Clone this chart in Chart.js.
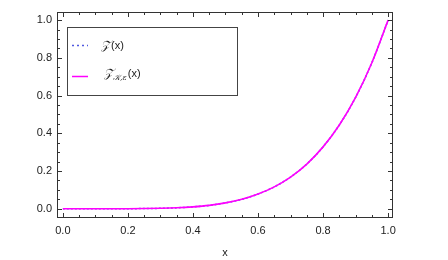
<!DOCTYPE html>
<html>
<head>
<meta charset="utf-8">
<script src="https://cdn.jsdelivr.net/npm/chart.js@4"></script>
<style>
  html, body { margin: 0; padding: 0; background: #fff; }
  #wrap { width: 448px; height: 260px; }
</style>
</head>
<body>
<div id="wrap"><canvas id="myChart"></canvas></div>
<script>
// values
var xValues   = [0, 0.05, 0.1, 0.15, 0.2, 0.25, 0.3, 0.35, 0.4, 0.45, 0.5, 0.55, 0.6, 0.65, 0.7, 0.75, 0.8, 0.85, 0.9, 0.95, 1.0];
var zValues   = [0, 0, 0, 0, 0.0003, 0.001, 0.0024, 0.005, 0.01, 0.018, 0.031, 0.05, 0.078, 0.116, 0.168, 0.237, 0.328, 0.444, 0.59, 0.774, 1.0];
var zkeValues = [0, 0, 0, 0, 0.0003, 0.001, 0.0024, 0.005, 0.01, 0.018, 0.031, 0.05, 0.078, 0.116, 0.168, 0.237, 0.328, 0.444, 0.59, 0.774, 1.0];
var xTicks = [0, 0.2, 0.4, 0.6, 0.8, 1.0];
var yTicks = [0, 0.2, 0.4, 0.6, 0.8, 1.0];
var minorStep = 0.05;

function pts(ys) {
    return xValues.map(function (x, i) { return {x: x, y: ys[i]}; });
}

// Mathematica-like frame with inward ticks on all four sides, and the boxed legend
var framePlugin = {
    id: 'frame',
    afterDatasetsDraw: function (chart) {
        var ctx = chart.ctx, a = chart.chartArea;
        var xs = chart.scales.x, ys = chart.scales.y;
        ctx.save();
        ctx.strokeStyle = '#333';
        ctx.lineWidth = 1;
        ctx.strokeRect(a.left + 0.5, a.top + 0.5, a.right - a.left - 1, a.bottom - a.top - 1);
        ctx.beginPath();
        for (var i = 0; i <= 20; i++) {
            var v = i * minorStep;
            var major = (i % 4 === 0);
            var len = major ? 5 : 3;
            var px = Math.round(xs.getPixelForValue(v)) + 0.5;
            ctx.moveTo(px, a.bottom); ctx.lineTo(px, a.bottom - len);
            ctx.moveTo(px, a.top); ctx.lineTo(px, a.top + len);
            var py = Math.round(ys.getPixelForValue(v)) + 0.5;
            ctx.moveTo(a.left, py); ctx.lineTo(a.left + len, py);
            ctx.moveTo(a.right, py); ctx.lineTo(a.right - len, py);
        }
        ctx.stroke();

        // legend box
        ctx.fillStyle = '#fff';
        ctx.fillRect(67, 27, 170, 68);
        ctx.strokeStyle = '#444';
        ctx.strokeRect(67.5, 27.5, 170, 68);
        var ds = chart.data.datasets;
        ctx.lineWidth = 1.5;
        ctx.strokeStyle = ds[1].borderColor;
        ctx.setLineDash([2, 3]);
        ctx.beginPath(); ctx.moveTo(72, 45.5); ctx.lineTo(88, 45.5); ctx.stroke();
        ctx.setLineDash([]);
        ctx.strokeStyle = ds[0].borderColor;
        ctx.beginPath(); ctx.moveTo(72, 76.5); ctx.lineTo(88, 76.5); ctx.stroke();

        ctx.fillStyle = '#222';
        ctx.textBaseline = 'middle';
        ctx.font = 'italic 12px "DejaVu Serif"';
        ctx.fillText('\uD835\uDCB5', 101, 46);
        var w = ctx.measureText('\uD835\uDCB5').width;
        ctx.font = '11px "Liberation Sans"';
        ctx.fillText('(x)', 101 + w + 1, 46);

        ctx.font = 'italic 12px "DejaVu Serif"';
        ctx.fillText('\uD835\uDCB5', 104, 74);
        var w2 = ctx.measureText('\uD835\uDCB5').width;
        ctx.font = 'italic 8px "DejaVu Serif"';
        var sub = '\uD835\uDCA6,\u03B5';
        ctx.fillText(sub, 104 + w2, 78);
        var w3 = ctx.measureText(sub).width;
        ctx.font = '11px "Liberation Sans"';
        ctx.fillText('(x)', 104 + w2 + w3 + 1, 74);
        ctx.restore();
    }
};

new Chart("myChart", {
    type: "scatter",
    data: {
        datasets: [
            {
                label: 'ZKe(x)',
                data: pts(zkeValues),
                showLine: true,
                cubicInterpolationMode: 'monotone',
                borderColor: '#ff00ff',
                borderWidth: 1.6,
                pointRadius: 0,
                fill: false
            },
            {
                label: 'Z(x)',
                data: pts(zValues),
                showLine: true,
                cubicInterpolationMode: 'monotone',
                borderColor: '#5058e0',
                borderWidth: 1.5,
                borderDash: [2, 2],
                pointRadius: 0,
                fill: false
            }
        ]
    },
    options: {
        responsive: true,
        maintainAspectRatio: false,
        animation: false,
        layout: { padding: { top: 12, right: 55, left: 0, bottom: 0 } },
        plugins: { legend: { display: false }, tooltip: { enabled: false } },
        scales: {
            x: {
                type: 'linear',
                min: -0.018,
                max: 1.015,
                afterBuildTicks: function (s) { s.ticks = xTicks.map(function (v) { return {value: v}; }); },
                afterFit: function (s) { s.height = 42; },
                grid: { display: false, drawTicks: false },
                border: { display: false },
                ticks: {
                    padding: 6,
                    color: '#222',
                    font: { family: 'Liberation Sans', size: 11 },
                    maxRotation: 0,
                    callback: function (v) { return v.toFixed(1); }
                },
                title: {
                    display: true,
                    text: 'x',
                    color: '#222',
                    font: { family: 'Liberation Sans', size: 11 },
                    padding: { top: 8, bottom: 0 }
                }
            },
            y: {
                type: 'linear',
                min: -0.049,
                max: 1.043,
                afterBuildTicks: function (s) { s.ticks = yTicks.map(function (v) { return {value: v}; }); },
                afterFit: function (s) { s.width = 57; },
                grid: { display: false, drawTicks: false },
                border: { display: false },
                ticks: {
                    padding: 5,
                    color: '#222',
                    font: { family: 'Liberation Sans', size: 11 },
                    callback: function (v) { return v.toFixed(1); }
                }
            }
        }
    },
    plugins: [framePlugin]
});
</script>
</body>
</html>
